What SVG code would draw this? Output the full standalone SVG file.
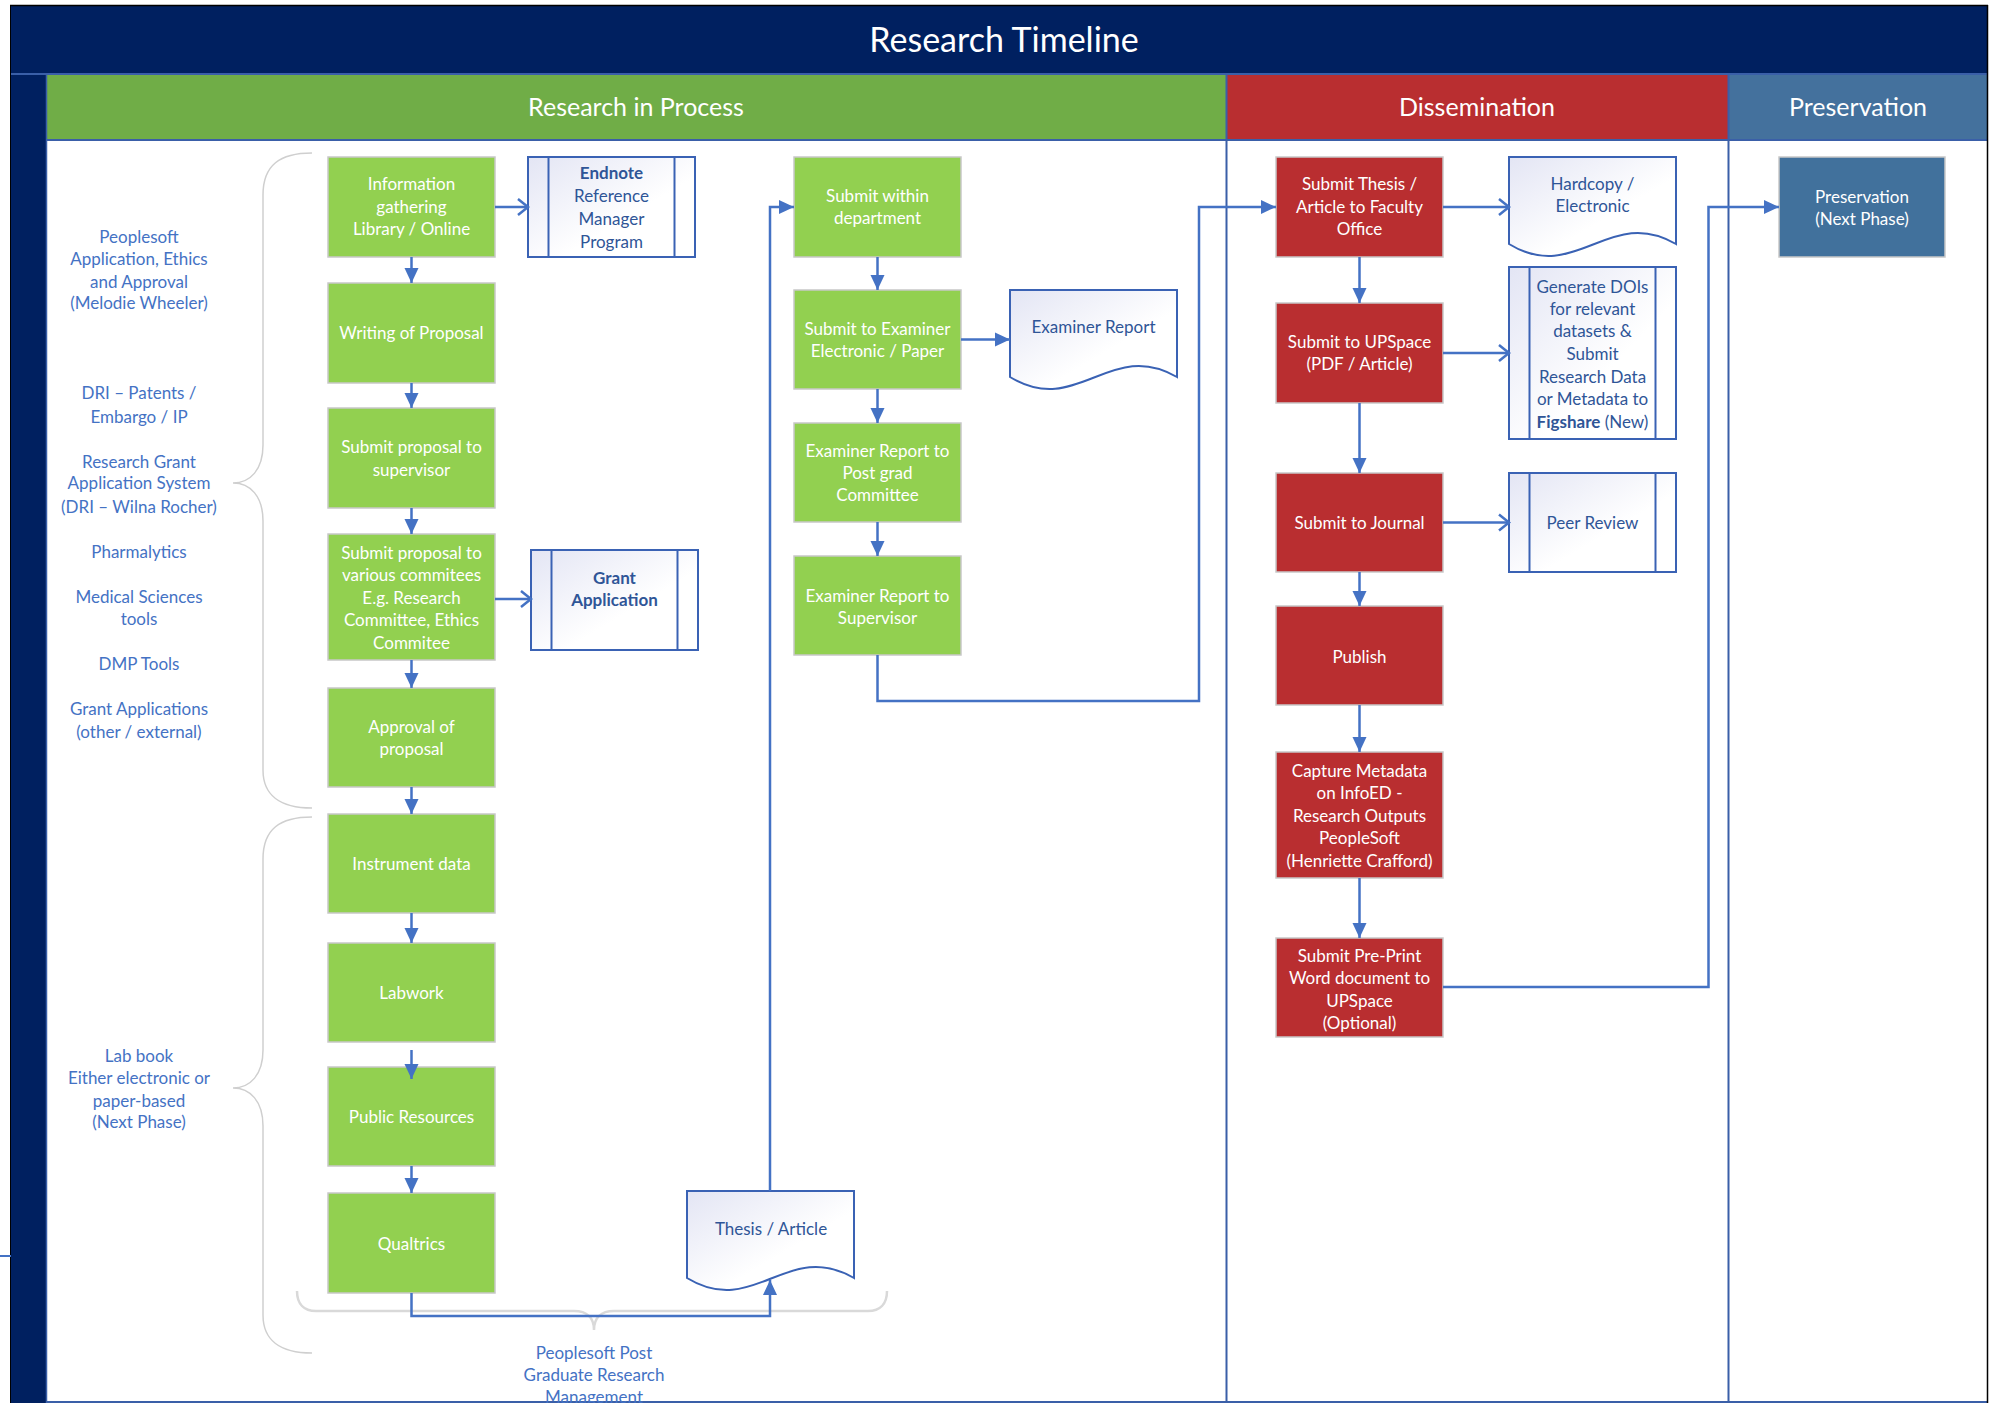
<svg xmlns="http://www.w3.org/2000/svg" width="2000" height="1403" viewBox="0 0 2000 1403">
<style>
.t{font-family:Lato,"Liberation Sans",sans-serif;text-anchor:middle}
.nw{font-size:17px;fill:#ffffff}
.lb{font-size:17px;fill:#4472C4}
.bx{font-size:17px;fill:#2F5597}
.hd{font-size:25px;fill:#ffffff}
.gn{fill:#92D050;stroke:#C8C8C8;stroke-width:1.5}
.rd{fill:#B92E30;stroke:#C8C8C8;stroke-width:1.5}
.pv{fill:#41719C;stroke:#C8C8C8;stroke-width:1.5}
.doc{fill:url(#docfill);stroke:#3A62B4;stroke-width:2}
.sub{fill:none;stroke:#3A62B4;stroke-width:2}
.c{fill:none;stroke:#4472C4;stroke-width:2.5}
.cf{marker-end:url(#af)}
.co{marker-end:url(#ao)}
.br{fill:none;stroke:#CFCFCF;stroke-width:1.5}
</style>
<defs>
<linearGradient id="docfill" x1="0" y1="0" x2="1" y2="1">
<stop offset="0" stop-color="#E3E5F4"/>
<stop offset="0.6" stop-color="#FFFFFF"/>
</linearGradient>
<marker id="af" markerUnits="userSpaceOnUse" markerWidth="16" markerHeight="16" viewBox="0 0 16 16" refX="15" refY="8" orient="auto">
<path d="M0,1 L15,8 L0,15 Z" fill="#4472C4"/>
</marker>
<marker id="ao" markerUnits="userSpaceOnUse" markerWidth="14" markerHeight="20" viewBox="0 0 14 20" refX="11" refY="10" orient="auto">
<path d="M1,2 L11,10 L1,18" fill="none" stroke="#4472C4" stroke-width="2.5"/>
</marker>
</defs>

<rect x="0" y="0" width="2000" height="1403" fill="#ffffff"/>

<g id="frame">
<rect x="11" y="6" width="1976" height="68" fill="#002060"/>
<rect x="11" y="74" width="35" height="1329" fill="#002060"/>
<rect x="46" y="75" width="1180" height="64" fill="#70AD47"/>
<rect x="1227" y="75" width="501" height="64" fill="#B92E30"/>
<rect x="1729" y="75" width="258" height="64" fill="#44719D"/>
<line x1="11" y1="74" x2="1987" y2="74" stroke="#3A5FA8" stroke-width="2"/>
<line x1="46" y1="140" x2="1987" y2="140" stroke="#3A5FA8" stroke-width="2"/>
<line x1="46.5" y1="74" x2="46.5" y2="1403" stroke="#3A5FA8" stroke-width="1.5"/>
<line x1="1226.5" y1="74" x2="1226.5" y2="1403" stroke="#3A5FA8" stroke-width="2"/>
<line x1="1728.5" y1="74" x2="1728.5" y2="1403" stroke="#3A5FA8" stroke-width="2"/>
<line x1="46" y1="1402" x2="1987" y2="1402" stroke="#3A5FA8" stroke-width="2"/>
<line x1="10" y1="5.5" x2="1988" y2="5.5" stroke="#000000" stroke-width="1.5"/>
<line x1="10.5" y1="5" x2="10.5" y2="1403" stroke="#000000" stroke-width="1"/>
<line x1="1987.5" y1="5" x2="1987.5" y2="1403" stroke="#000000" stroke-width="1.5"/>
<line x1="0" y1="1256" x2="11" y2="1256" stroke="#4472C4" stroke-width="2"/>
<text class="t" x="1004" y="52" font-size="34" fill="#ffffff">Research Timeline</text>
<text class="t hd" x="636" y="116">Research in Process</text>
<text class="t hd" x="1477" y="116">Dissemination</text>
<text class="t hd" x="1858" y="116">Preservation</text>
</g>

<g id="braces">
<path class="br" d="M312,153 C280,153 263,165 263,195 V445 C263,470 250,483 233,483 C250,483 263,496 263,521 V770 C263,795 280,808 312,808"/>
<path class="br" d="M312,817 C280,817 263,829 263,859 V1050 C263,1075 250,1088 233,1088 C250,1088 263,1101 263,1126 V1315 C263,1340 280,1353 312,1353"/>
<path d="M297,1291 C297,1304 304,1311 316,1311 H574 C587,1311 594,1318 594,1330 C594,1318 601,1311 614,1311 H868 C880,1311 887,1304 887,1291" fill="none" stroke="#D9D9D9" stroke-width="2.5"/>
</g>

<g id="labels">
<text class="t lb" x="139" y="243">Peoplesoft</text>
<text class="t lb" x="139" y="265">Application, Ethics</text>
<text class="t lb" x="139" y="288">and Approval</text>
<text class="t lb" x="139" y="309">(Melodie Wheeler)</text>
<text class="t lb" x="139" y="399">DRI – Patents /</text>
<text class="t lb" x="139" y="423">Embargo / IP</text>
<text class="t lb" x="139" y="468">Research Grant</text>
<text class="t lb" x="139" y="489">Application System</text>
<text class="t lb" x="139" y="513">(DRI – Wilna Rocher)</text>
<text class="t lb" x="139" y="558">Pharmalytics</text>
<text class="t lb" x="139" y="603">Medical Sciences</text>
<text class="t lb" x="139" y="625">tools</text>
<text class="t lb" x="139" y="670">DMP Tools</text>
<text class="t lb" x="139" y="715">Grant Applications</text>
<text class="t lb" x="139" y="738">(other / external)</text>
<text class="t lb" x="139" y="1062">Lab book</text>
<text class="t lb" x="139" y="1084">Either electronic or</text>
<text class="t lb" x="139" y="1107">paper-based</text>
<text class="t lb" x="139" y="1128">(Next Phase)</text>
<text class="t lb" x="594" y="1359">Peoplesoft Post</text>
<text class="t lb" x="594" y="1381">Graduate Research</text>
<text class="t lb" x="594" y="1403">Management</text>
</g>

<g id="n-info"><rect class="gn" x="328" y="157" width="167" height="100"/>
<text class="t nw" x="411.5" y="190">Information</text><text class="t nw" x="411.5" y="213">gathering</text><text class="t nw" x="411.5" y="235">Library / Online</text></g>
<g id="n-writing"><rect class="gn" x="328" y="283" width="167" height="100"/>
<text class="t nw" x="411.5" y="339">Writing of Proposal</text></g>
<g id="n-supervisor"><rect class="gn" x="328" y="408" width="167" height="100"/>
<text class="t nw" x="411.5" y="453">Submit proposal to</text><text class="t nw" x="411.5" y="476">supervisor</text></g>
<g id="n-committees"><rect class="gn" x="328" y="534" width="167" height="126"/>
<text class="t nw" x="411.5" y="559">Submit proposal to</text><text class="t nw" x="411.5" y="581">various commitees</text><text class="t nw" x="411.5" y="604">E.g. Research</text><text class="t nw" x="411.5" y="626">Committee, Ethics</text><text class="t nw" x="411.5" y="649">Commitee</text></g>
<g id="n-approval"><rect class="gn" x="328" y="688" width="167" height="99"/>
<text class="t nw" x="411.5" y="733">Approval of</text><text class="t nw" x="411.5" y="755">proposal</text></g>
<g id="n-instrument"><rect class="gn" x="328" y="814" width="167" height="99"/>
<text class="t nw" x="411.5" y="870">Instrument data</text></g>
<g id="n-labwork"><rect class="gn" x="328" y="943" width="167" height="99"/>
<text class="t nw" x="411.5" y="999">Labwork</text></g>
<g id="n-public"><rect class="gn" x="328" y="1067" width="167" height="99"/>
<text class="t nw" x="411.5" y="1123">Public Resources</text></g>
<g id="n-qualtrics"><rect class="gn" x="328" y="1193" width="167" height="100"/>
<text class="t nw" x="411.5" y="1250">Qualtrics</text></g>

<g id="n-endnote"><rect class="doc" x="528" y="157" width="167" height="100"/>
<line class="sub" x1="548.5" y1="157" x2="548.5" y2="257"/><line class="sub" x1="674.5" y1="157" x2="674.5" y2="257"/>
<text class="t bx" x="611.5" y="179" font-weight="bold">Endnote</text><text class="t bx" x="611.5" y="202">Reference</text><text class="t bx" x="611.5" y="225">Manager</text><text class="t bx" x="611.5" y="248">Program</text></g>
<g id="n-grant"><rect class="doc" x="531" y="550" width="167" height="100"/>
<line class="sub" x1="551.5" y1="550" x2="551.5" y2="650"/><line class="sub" x1="677.5" y1="550" x2="677.5" y2="650"/>
<text class="t bx" x="614.5" y="584" font-weight="bold">Grant</text><text class="t bx" x="614.5" y="606" font-weight="bold">Application</text></g>

<g id="n-thesis"><path class="doc" d="M687,1191 H854 V1278 C787,1239 754,1319 687,1278 Z"/>
<text class="t bx" x="771" y="1235">Thesis / Article</text></g>

<g id="n-within"><rect class="gn" x="794" y="157" width="167" height="100"/>
<text class="t nw" x="877.5" y="202">Submit within</text><text class="t nw" x="877.5" y="224">department</text></g>
<g id="n-examiner"><rect class="gn" x="794" y="290" width="167" height="99"/>
<text class="t nw" x="877.5" y="335">Submit to Examiner</text><text class="t nw" x="877.5" y="357">Electronic / Paper</text></g>
<g id="n-postgrad"><rect class="gn" x="794" y="423" width="167" height="99"/>
<text class="t nw" x="877.5" y="457">Examiner Report to</text><text class="t nw" x="877.5" y="479">Post grad</text><text class="t nw" x="877.5" y="501">Committee</text></g>
<g id="n-tosupervisor"><rect class="gn" x="794" y="556" width="167" height="99"/>
<text class="t nw" x="877.5" y="602">Examiner Report to</text><text class="t nw" x="877.5" y="624">Supervisor</text></g>
<g id="n-examreport"><path class="doc" d="M1010,290 H1177 V377 C1110,338 1077,418 1010,377 Z"/>
<text class="t bx" x="1093.5" y="333">Examiner Report</text></g>

<g id="n-faculty"><rect class="rd" x="1276" y="157" width="167" height="100"/>
<text class="t nw" x="1359.5" y="190">Submit Thesis /</text><text class="t nw" x="1359.5" y="213">Article to Faculty</text><text class="t nw" x="1359.5" y="235">Office</text></g>
<g id="n-upspace"><rect class="rd" x="1276" y="303" width="167" height="100"/>
<text class="t nw" x="1359.5" y="348">Submit to UPSpace</text><text class="t nw" x="1359.5" y="370">(PDF / Article)</text></g>
<g id="n-journal"><rect class="rd" x="1276" y="473" width="167" height="99"/>
<text class="t nw" x="1359.5" y="529">Submit to Journal</text></g>
<g id="n-publish"><rect class="rd" x="1276" y="606" width="167" height="99"/>
<text class="t nw" x="1359.5" y="663">Publish</text></g>
<g id="n-capture"><rect class="rd" x="1276" y="752" width="167" height="126"/>
<text class="t nw" x="1359.5" y="777">Capture Metadata</text><text class="t nw" x="1359.5" y="799">on InfoED -</text><text class="t nw" x="1359.5" y="822">Research Outputs</text><text class="t nw" x="1359.5" y="844">PeopleSoft</text><text class="t nw" x="1359.5" y="867">(Henriette Crafford)</text></g>
<g id="n-preprint"><rect class="rd" x="1276" y="938" width="167" height="99"/>
<text class="t nw" x="1359.5" y="962">Submit Pre-Print</text><text class="t nw" x="1359.5" y="984">Word document to</text><text class="t nw" x="1359.5" y="1007">UPSpace</text><text class="t nw" x="1359.5" y="1029">(Optional)</text></g>

<g id="n-hardcopy"><path class="doc" d="M1509,157 H1676 V244 C1609,205 1576,285 1509,244 Z"/>
<text class="t bx" x="1592.5" y="190">Hardcopy /</text><text class="t bx" x="1592.5" y="212">Electronic</text></g>
<g id="n-dois"><rect class="doc" x="1509" y="267" width="167" height="172"/>
<line class="sub" x1="1529.5" y1="267" x2="1529.5" y2="439"/><line class="sub" x1="1655.5" y1="267" x2="1655.5" y2="439"/>
<text class="t bx" x="1592.5" y="293">Generate DOIs</text><text class="t bx" x="1592.5" y="315">for relevant</text><text class="t bx" x="1592.5" y="337">datasets &amp;</text><text class="t bx" x="1592.5" y="360">Submit</text><text class="t bx" x="1592.5" y="383">Research Data</text><text class="t bx" x="1592.5" y="405">or Metadata to</text><text class="t bx" x="1592.5" y="428"><tspan font-weight="bold">Figshare</tspan> (New)</text></g>
<g id="n-peer"><rect class="doc" x="1509" y="473" width="167" height="99"/>
<line class="sub" x1="1529.5" y1="473" x2="1529.5" y2="572"/><line class="sub" x1="1655.5" y1="473" x2="1655.5" y2="572"/>
<text class="t bx" x="1592.5" y="529">Peer Review</text></g>

<g id="n-preservation"><rect class="pv" x="1779" y="157" width="166" height="100"/>
<text class="t nw" x="1862" y="203">Preservation</text><text class="t nw" x="1862" y="225">(Next Phase)</text></g>

<g id="connectors">
<path class="c cf" d="M411.5,257 V283"/>
<path class="c cf" d="M411.5,383 V408"/>
<path class="c cf" d="M411.5,508 V534"/>
<path class="c cf" d="M411.5,660 V688"/>
<path class="c cf" d="M411.5,787 V814"/>
<path class="c cf" d="M411.5,913 V943"/>
<path class="c cf" d="M411.5,1050 V1079"/>
<path class="c cf" d="M411.5,1166 V1193"/>
<path class="c cf" d="M411.5,1293 V1316 H770 V1280"/>
<path class="c cf" d="M770,1191 V207 H794"/>
<path class="c co" d="M495,207 H528"/>
<path class="c co" d="M495,599 H531"/>
<path class="c cf" d="M877.5,257 V290"/>
<path class="c cf" d="M877.5,389 V423"/>
<path class="c cf" d="M877.5,522 V556"/>
<path class="c cf" d="M961,339.5 H1010"/>
<path class="c cf" d="M877.5,655 V701 H1199 V207 H1276"/>
<path class="c cf" d="M1359.5,257 V303"/>
<path class="c cf" d="M1359.5,403 V473"/>
<path class="c cf" d="M1359.5,572 V606"/>
<path class="c cf" d="M1359.5,705 V752"/>
<path class="c cf" d="M1359.5,878 V938"/>
<path class="c co" d="M1443,207 H1509"/>
<path class="c co" d="M1443,353 H1509"/>
<path class="c co" d="M1443,522.5 H1509"/>
<path class="c cf" d="M1443,987 H1708.5 V207 H1779"/>
</g>
</svg>
